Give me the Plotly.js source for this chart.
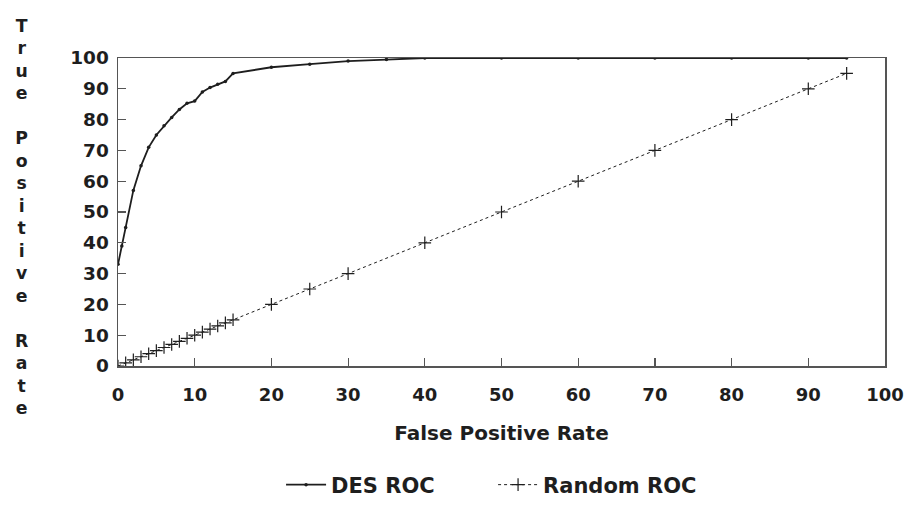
<!DOCTYPE html>
<html>
<head>
<meta charset="utf-8">
<script src="https://cdn.plot.ly/plotly-3.0.1.min.js"></script>
<style>html,body{margin:0;padding:0;background:#fff;}</style>
</head>
<body>
<div id="chart" style="width:905px;height:506px;"></div>
<script>
// DES ROC curve (False Positive Rate %, True Positive Rate %)
const desFPR = [0, 0.5, 1, 2, 3, 4, 5, 6, 7, 8, 9, 10, 11, 12, 13, 14, 15, 20, 25, 30, 35, 40, 50, 60, 70, 80, 90, 95];
const desTPR = [33, 39, 45, 57, 65, 71, 75, 78, 80.7, 83.3, 85.3, 86, 89, 90.4, 91.5, 92.4, 95, 97, 98, 99, 99.5, 100, 100, 100, 100, 100, 100, 100];
// Random ROC (diagonal)
const randFPR = [0, 1, 2, 3, 4, 5, 6, 7, 8, 9, 10, 11, 12, 13, 14, 15, 20, 25, 30, 40, 50, 60, 70, 80, 90, 95];
const randTPR = [0, 1, 2, 3, 4, 5, 6, 7, 8, 9, 10, 11, 12, 13, 14, 15, 20, 25, 30, 40, 50, 60, 70, 80, 90, 95];
const tickVals = [0, 10, 20, 30, 40, 50, 60, 70, 80, 90, 100];
const xTitle = "False Positive Rate";
const yTitle = "True Positive Rate";
const seriesNames = ["DES ROC", "Random ROC"];

const FONT = "DejaVu Sans, Liberation Sans, Arial, sans-serif";
const INK = "#1e1e1e";

const traces = [
  {
    x: desFPR, y: desTPR, name: seriesNames[0], type: "scatter", mode: "lines+markers",
    line: {color: INK, width: 1.8},
    marker: {symbol: "circle", size: 3.5, color: INK}
  },
  {
    x: randFPR, y: randTPR, name: seriesNames[1], type: "scatter", mode: "lines+markers",
    line: {color: INK, width: 1, dash: "dot"},
    marker: {symbol: "cross-thin-open", size: 9, color: INK, line: {color: INK, width: 1.2}}
  }
];

// vertical stacked y title
const stacked = yTitle.split("").join("<br>");

const layout = {
  width: 905, height: 506,
  paper_bgcolor: "#fff", plot_bgcolor: "#fff",
  margin: {l: 118, r: 20, t: 58, b: 139.5},
  showlegend: true,
  legend: {
    orientation: "h", x: 0.489, xanchor: "center",
    yref: "container", y: 0.0415, yanchor: "middle",
    font: {family: FONT, size: 21, color: INK, weight: "bold"},
    itemwidth: 40, tracegroupgap: 0,
    entrywidth: 157, entrywidthmode: "pixels"
  },
  xaxis: {
    range: [0, 100], tickvals: tickVals, ticktext: tickVals.map(String),
    ticks: "inside", ticklen: 8, tickwidth: 1.2, tickcolor: "#555",
    showline: true, linecolor: "#555", linewidth: 1.5, mirror: true,
    showgrid: false, zeroline: false, automargin: false,
    tickfont: {family: FONT, size: 18, color: INK, weight: "bold"},
    ticklabelstandoff: 12,
    title: {text: xTitle, font: {family: FONT, size: 20, color: INK, weight: "bold"}, standoff: 22}
  },
  yaxis: {
    range: [0, 100], tickvals: tickVals, ticktext: tickVals.map(String),
    ticks: "inside", ticklen: 8, tickwidth: 1.2, tickcolor: "#555",
    showline: true, linecolor: "#555", linewidth: 1.5, mirror: true,
    showgrid: false, zeroline: false, automargin: false,
    tickfont: {family: FONT, size: 18.5, color: INK, weight: "bold"},
    ticklabelstandoff: 4
  },
  annotations: [{
    text: stacked, xref: "paper", yref: "paper", x: -0.126, y: 0.485,
    xanchor: "center", yanchor: "middle", showarrow: false, align: "center",
    font: {family: FONT, size: 17.3, color: INK, weight: "bold"}
  }]
};

Plotly.newPlot("chart", traces, layout, {displayModeBar: false, staticPlot: true});
</script>
</body>
</html>
